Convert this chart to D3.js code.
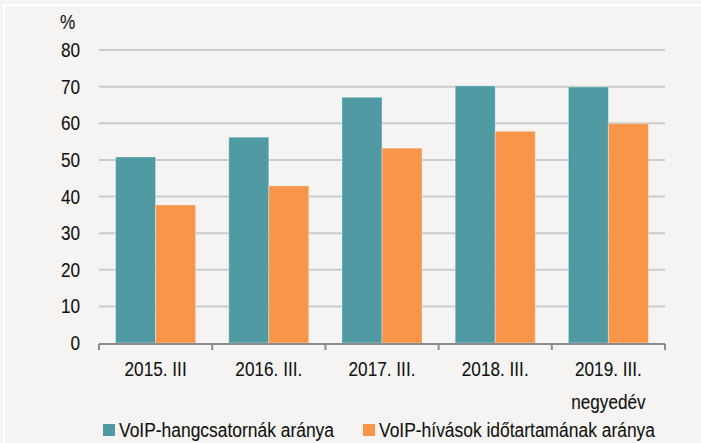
<!DOCTYPE html>
<html lang="hu">
<head>
<meta charset="utf-8">
<title>VoIP arány</title>
<script src="https://cdnjs.cloudflare.com/ajax/libs/d3/7.8.5/d3.min.js"></script>
<style>
  body { margin: 0; background: #f5f4f2; }
  svg text { font-family: "Liberation Sans", Arial, sans-serif; fill: #111; }
</style>
</head>
<body>
<div id="vis"></div>
<script>
  // data
  var categories = ['2015. III', '2016. III.', '2017. III.', '2018. III.', '2019. III.'];
  var seriesNames = ['VoIP-hangcsatornák aránya', 'VoIP-hívások időtartamának aránya'];
  var channels = [50.8, 56.2, 67.1, 70.2, 69.9];
  var duration = [37.7, 42.9, 53.2, 57.8, 59.9];
  var yTicks = [0, 10, 20, 30, 40, 50, 60, 70, 80];
  var colors = ['#4f9aa3', '#f89548'];

  var width = 701, height = 443;
  var margin = { left: 99, right: 36, top: 50, bottom: 100 };
  var sx = 0.86; // text looks horizontally squeezed

  var svg = d3.select('#vis').append('svg')
      .attr('width', width)
      .attr('height', height);

  svg.append('rect')
      .attr('x', 0).attr('y', 0)
      .attr('width', width).attr('height', height)
      .attr('fill', '#f5f4f2');

  // white frame line
  svg.append('path')
      .attr('d', 'M4,' + height + 'V5.5H' + width)
      .attr('fill', 'none')
      .attr('stroke', '#fff')
      .attr('stroke-width', 2);

  var x0 = d3.scaleBand()
      .domain(categories)
      .range([margin.left, width - margin.right])
      .paddingInner(0.293)
      .paddingOuter(0.1465);

  var x1 = d3.scaleBand()
      .domain([0, 1])
      .range([0, x0.bandwidth()]);

  var y = d3.scaleLinear()
      .domain([0, 80])
      .range([height - margin.bottom, margin.top]);

  // gridlines
  svg.append('g')
      .selectAll('line')
      .data(yTicks.filter(function(d) { return d > 0; }))
      .enter().append('line')
      .attr('x1', margin.left)
      .attr('x2', width - margin.right)
      .attr('y1', function(d) { return y(d); })
      .attr('y2', function(d) { return y(d); })
      .attr('stroke', '#cbcbcb')
      .attr('stroke-width', 2);

  function squeezed(sel, px, py, anchor) {
    return sel.append('text')
      .attr('transform', 'translate(' + px + ',' + py + ') scale(' + sx + ',1)')
      .attr('text-anchor', anchor)
      .style('font-size', '20px')
      .style('stroke', '#111')
      .style('stroke-width', '0.1px');
  }

  // y labels
  yTicks.forEach(function(t) {
    squeezed(svg, 80, y(t) + 7, 'end').text(t);
  });
  squeezed(svg, 60, 29, 'start').text('%');

  // bars
  var rows = categories.map(function(c, i) {
    return { cat: c, vals: [channels[i], duration[i]] };
  });

  var groups = svg.selectAll('.grp')
      .data(rows)
      .enter().append('g')
      .attr('class', 'grp')
      .attr('transform', function(d) { return 'translate(' + x0(d.cat) + ',0)'; });

  groups.selectAll('rect')
      .data(function(d) { return d.vals; })
      .enter().append('rect')
      .attr('x', function(d, i) { return x1(i); })
      .attr('width', x1.bandwidth())
      .attr('y', function(d) { return y(d); })
      .attr('height', function(d) { return y(0) - y(d); })
      .attr('fill', function(d, i) { return colors[i]; })
      .attr('stroke', 'rgba(255,255,255,0.35)')
      .attr('stroke-width', 1);

  // x axis
  var step = x0.step();
  var bounds = d3.range(categories.length + 1).map(function(i) {
    return margin.left + i * step;
  });
  var axisY = y(0) + 1;
  svg.append('line')
      .attr('x1', margin.left).attr('x2', width - margin.right)
      .attr('y1', axisY).attr('y2', axisY)
      .attr('stroke', '#8c8c8c')
      .attr('stroke-width', 2);
  svg.append('g').selectAll('line')
      .data(bounds)
      .enter().append('line')
      .attr('x1', function(d) { return d; })
      .attr('x2', function(d) { return d; })
      .attr('y1', axisY).attr('y2', axisY + 6)
      .attr('stroke', '#8c8c8c')
      .attr('stroke-width', 2);

  categories.forEach(function(c) {
    squeezed(svg, x0(c) + x0.bandwidth() / 2, 376, 'middle').text(c);
  });
  squeezed(svg, x0(categories[4]) + x0.bandwidth() / 2, 409, 'middle').text('negyedév');

  // legend
  var legendX = [103, 363];
  var legendW = [215, 276];
  seriesNames.forEach(function(name, i) {
    svg.append('rect')
        .attr('x', legendX[i]).attr('y', 424)
        .attr('width', 12).attr('height', 12)
        .attr('fill', colors[i]);
    svg.append('text')
        .attr('x', legendX[i] + 16)
        .attr('y', 437)
        .attr('textLength', legendW[i])
        .attr('lengthAdjust', 'spacingAndGlyphs')
        .style('font-size', '20px')
        .style('stroke', '#111')
        .style('stroke-width', '0.1px')
        .text(name);
  });
</script>
</body>
</html>
